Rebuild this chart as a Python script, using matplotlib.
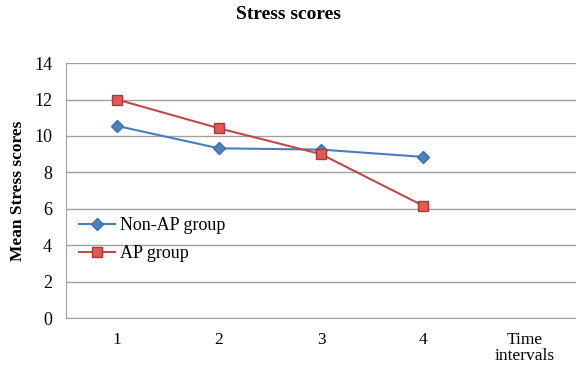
import matplotlib.pyplot as plt

intervals = ['1', '2', '3', '4', 'Time\nintervals']
non_ap = [10.55, 9.32, 9.25, 8.85]
ap = [12.0, 10.42, 9.0, 6.17]
yticks = [0, 2, 4, 6, 8, 10, 12, 14]

plt.rcParams['font.family'] = ['Liberation Serif', 'DejaVu Serif']

fig = plt.figure(figsize=(5.76, 3.67), dpi=100)
ax = fig.add_axes([0.1146, 0.1335, 0.8854, 0.6945])

x = range(len(non_ap))
ax.plot(x, non_ap, color='#4a7ebb', marker='D', markersize=6, lw=1.5,
        markerfacecolor='#4f81bd', markeredgecolor='#3a6fb0', label='Non-AP group')
ax.plot(x, ap, color='#be4b48', marker='s', markersize=7, lw=1.5,
        markerfacecolor='#e05a57', markeredgecolor='#a83a37', label='AP group')

ax.set_xlim(-0.5, len(intervals) - 0.5)
ax.set_ylim(0, 14)
ax.set_xticks(range(len(intervals)))
ax.set_xticklabels(intervals, fontsize=12.5, linespacing=1.0)
ax.set_yticks(yticks)
ax.set_yticklabels([str(v) for v in yticks], fontsize=13)
ax.tick_params(axis='y', length=0, pad=10)
ax.tick_params(axis='x', length=0, pad=10)
ax.yaxis.grid(True, color='#a0a0a0', lw=1)
ax.set_axisbelow(True)
for s in ['top', 'right']:
    ax.spines[s].set_visible(False)
for s in ['left', 'bottom']:
    ax.spines[s].set_color('#a0a0a0')

ax.set_ylabel('Mean Stress scores', fontsize=12.5, fontweight='bold', labelpad=6)
fig.suptitle('Stress scores', fontsize=14, fontweight='bold', y=0.985)

ax.legend(loc='lower left', bbox_to_anchor=(0.0, 0.17), frameon=False,
          fontsize=13, handlelength=2.0, handletextpad=0.3,
          labelspacing=0.6, borderaxespad=0.3)

fig.savefig('out.png', dpi=100)
